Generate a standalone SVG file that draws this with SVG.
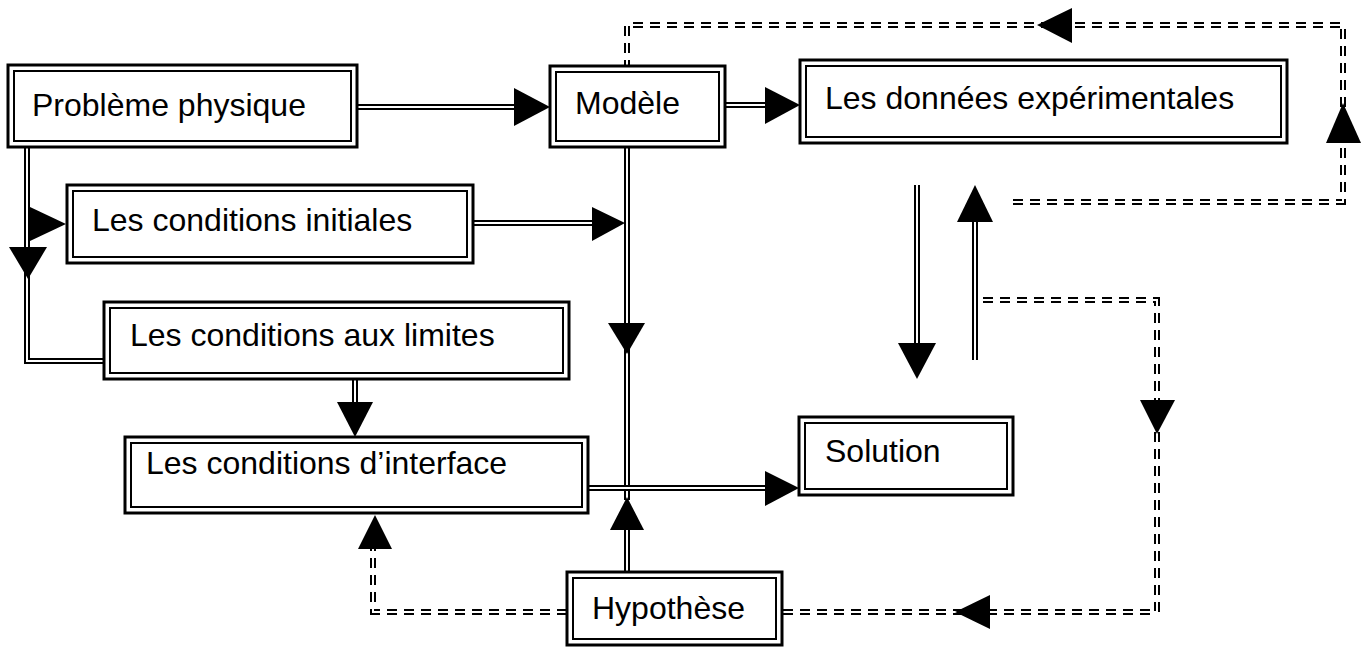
<svg xmlns="http://www.w3.org/2000/svg" xmlns:xlink="http://www.w3.org/1999/xlink" width="1368" height="650" viewBox="0 0 1368 650">
<style>
.bo{fill:#fff;stroke:#000;stroke-width:3}
.bi{fill:none;stroke:#000;stroke-width:2}
.t{font-family:"Liberation Sans",Arial,sans-serif;font-size:32px;fill:#000}
.lo{fill:none;stroke:#000;stroke-width:6}
.li{fill:none;stroke:#fff;stroke-width:2}
.do{fill:none;stroke:#000;stroke-width:6;stroke-dasharray:10 7}
.ah{fill:#000;stroke:none}
</style>
<defs>
<path id="s1" d="M357,107 H516"/>
<path id="s2" d="M725,105 H767"/>
<path id="s3" d="M27,147 V361 H105"/>
<path id="s4" d="M473,223 H594"/>
<path id="s5" d="M627,147 V500"/>
<path id="s6" d="M627,572 V528"/>
<path id="s7" d="M355,379 V405"/>
<path id="s8" d="M588,488 H767"/>
<path id="s9" d="M917,185 V345"/>
<path id="s10" d="M975,360 V220"/>
<path id="d1" d="M1013,202 H1343 V25 H627 V66"/>
<path id="d2" d="M983,300 H1157 V612 H782"/>
<path id="d3" d="M567,612 H373 V549"/>
</defs>
<rect width="1368" height="650" fill="#fff"/>
<g id="connectors">
<use xlink:href="#s1" class="lo"/><use xlink:href="#s1" class="li"/>
<use xlink:href="#s2" class="lo"/><use xlink:href="#s2" class="li"/>
<use xlink:href="#s3" class="lo"/><use xlink:href="#s3" class="li"/>
<use xlink:href="#s4" class="lo"/><use xlink:href="#s4" class="li"/>
<use xlink:href="#s5" class="lo"/><use xlink:href="#s5" class="li"/>
<use xlink:href="#s6" class="lo"/><use xlink:href="#s6" class="li"/>
<use xlink:href="#s7" class="lo"/><use xlink:href="#s7" class="li"/>
<use xlink:href="#s8" class="lo"/><use xlink:href="#s8" class="li"/>
<use xlink:href="#s9" class="lo"/><use xlink:href="#s9" class="li"/>
<use xlink:href="#s10" class="lo"/><use xlink:href="#s10" class="li"/>
<use xlink:href="#d1" class="do"/><use xlink:href="#d1" class="li"/>
<use xlink:href="#d2" class="do"/><use xlink:href="#d2" class="li"/>
<use xlink:href="#d3" class="do"/><use xlink:href="#d3" class="li"/>
<polygon class="ah" points="514,88 550,107 514,126"/>
<polygon class="ah" points="765,87 800,105 765,124"/>
<polygon class="ah" points="30,207 66,224 30,241"/>
<polygon class="ah" points="9,247 47,247 28,279"/>
<polygon class="ah" points="592,207 625,223 592,241"/>
<polygon class="ah" points="608,323 645,323 627,354"/>
<polygon class="ah" points="337,402 373,402 355,437"/>
<polygon class="ah" points="610,530 644,530 627,497"/>
<polygon class="ah" points="765,471 799,488 765,506"/>
<polygon class="ah" points="898,343 936,343 917,379"/>
<polygon class="ah" points="957,222 993,222 975,185"/>
<polygon class="ah" points="1072,8 1037,25 1072,43"/>
<polygon class="ah" points="1326,143 1343,103 1361,143"/>
<polygon class="ah" points="1140,400 1175,400 1157,434"/>
<polygon class="ah" points="990,595 955,612 990,629"/>
<polygon class="ah" points="358,549 392,549 375,515"/>
</g>
<g id="node-probleme">
<rect class="bo" x="8" y="65" width="349" height="82"/>
<rect class="bi" x="14" y="71" width="337" height="70"/>
<text class="t" x="32" y="116">Problème physique</text>
</g>
<g id="node-modele">
<rect class="bo" x="550" y="66" width="175" height="81"/>
<rect class="bi" x="556" y="72" width="163" height="69"/>
<text class="t" x="575" y="114">Modèle</text>
</g>
<g id="node-donnees">
<rect class="bo" x="800" y="60" width="487" height="83"/>
<rect class="bi" x="806" y="66" width="475" height="71"/>
<text class="t" x="825" y="109">Les données expérimentales</text>
</g>
<g id="node-initiales">
<rect class="bo" x="67" y="185" width="406" height="78"/>
<rect class="bi" x="73" y="191" width="394" height="66"/>
<text class="t" x="92" y="231">Les conditions initiales</text>
</g>
<g id="node-limites">
<rect class="bo" x="104" y="302" width="465" height="77"/>
<rect class="bi" x="110" y="308" width="453" height="65"/>
<text class="t" x="130" y="346">Les conditions aux limites</text>
</g>
<g id="node-interface">
<rect class="bo" x="125" y="437" width="463" height="76"/>
<rect class="bi" x="131" y="443" width="451" height="64"/>
<text class="t" x="146" y="474">Les conditions d’interface</text>
</g>
<g id="node-solution">
<rect class="bo" x="799" y="417" width="214" height="78"/>
<rect class="bi" x="805" y="423" width="202" height="66"/>
<text class="t" x="825" y="462">Solution</text>
</g>
<g id="node-hypothese">
<rect class="bo" x="567" y="572" width="215" height="73"/>
<rect class="bi" x="573" y="578" width="203" height="61"/>
<text class="t" x="592" y="619">Hypothèse</text>
</g>
</svg>
